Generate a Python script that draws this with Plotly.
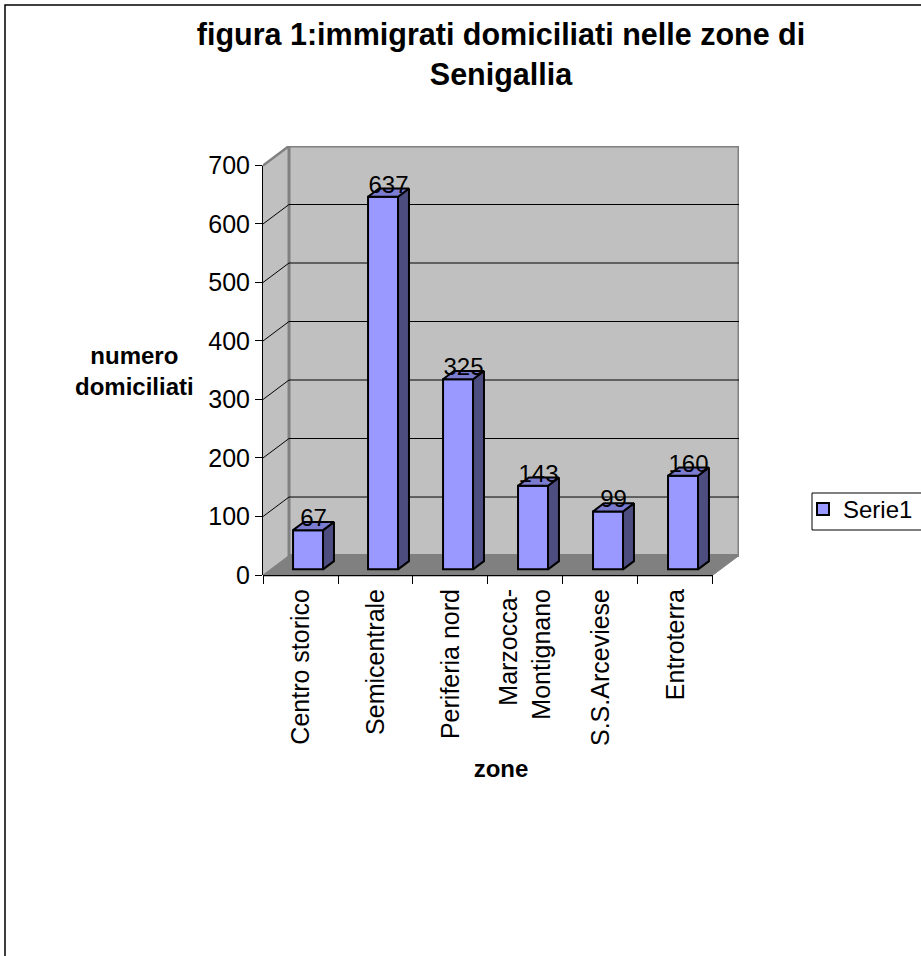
import plotly.graph_objects as go

# ---------------- data ----------------
categories = ["Centro storico", "Semicentrale", "Periferia nord",
              "Marzocca-<br>Montignano", "S.S.Arceviese", "Entroterra"]
values = [67, 637, 325, 143, 99, 160]
y_ticks = [0, 100, 200, 300, 400, 500, 600, 700]
series_name = "Serie1"
title_text = "figura 1:immigrati domiciliati nelle zone di<br>Senigallia"
x_title = "zone"
y_title = "numero<br>domiciliati"

# ---------------- style / geometry constants ----------------
FONT = "Liberation Sans, Arial, Helvetica, sans-serif"
W, H = 921, 956
L, R, T, B = 263, 182, 146, 381          # plot area margins (px)
PW, PH = W - L - R, H - T - B

DX = 0.347     # 3D depth shift (category units)
DY = 33.3      # 3D depth shift (value units)
F0, F1 = 0.29, 0.71   # bar front/back position within depth
HALF = 0.2            # half bar width (category units)
LABEL_PAD = 10        # label lift (value units)

FRONT = "#9999FF"
SIDE = "#4D4D80"
TOP = "#7B7BD0"
WALL = "#C0C0C0"
FLOOR = "#808080"

n = len(categories)
YMAX = y_ticks[-1]
x_lo = -0.5
x_front_hi = n - 0.5
x_hi = n - 0.5 + DX
y_hi = YMAX + DY


def px_x(p):   # pixel -> paper x
    return (p - L) / PW


def px_y(p):   # pixel -> paper y
    return (T + PH - p) / PH


fig = go.Figure()

# ---------------- walls, floor, gridlines (shapes below traces) ----------------
shapes = []
shapes.append(dict(type="path", xref="x", yref="y", layer="below",
                   path=f"M {x_lo},0 L {x_lo},{YMAX} L {x_lo+DX},{YMAX+DY} L {x_lo+DX},{DY} Z",
                   fillcolor=WALL, line=dict(width=0)))
shapes.append(dict(type="rect", xref="x", yref="y", layer="below",
                   x0=x_lo + DX, x1=x_front_hi + DX, y0=DY, y1=YMAX + DY,
                   fillcolor=WALL, line=dict(color=FLOOR, width=3)))
for v in y_ticks[1:-1]:
    shapes.append(dict(type="line", xref="x", yref="y", layer="below",
                       x0=x_lo + DX, x1=x_front_hi + DX, y0=v + DY, y1=v + DY,
                       line=dict(color="black", width=1)))
    shapes.append(dict(type="line", xref="x", yref="y", layer="below",
                       x0=x_lo, x1=x_lo + DX, y0=v, y1=v + DY,
                       line=dict(color="black", width=1)))
shapes.append(dict(type="line", xref="x", yref="y", layer="below",
                   x0=x_lo, x1=x_lo + DX, y0=YMAX, y1=YMAX + DY,
                   line=dict(color=FLOOR, width=2.5)))
shapes.append(dict(type="path", xref="x", yref="y", layer="below",
                   path=f"M {x_lo},0 L {x_front_hi},0 L {x_front_hi+DX},{DY} L {x_lo+DX},{DY} Z",
                   fillcolor=FLOOR, line=dict(color=FLOOR, width=1)))
# front axis lines
shapes.append(dict(type="line", xref="x domain", yref="y", layer="below",
                   x0=0, x1=0, y0=0, y1=YMAX, line=dict(color="black", width=2)))
shapes.append(dict(type="line", xref="x", yref="y domain", layer="below",
                   x0=x_lo, x1=x_front_hi, y0=0, y1=0, line=dict(color="black", width=2.5)))
# chart-area border
shapes.append(dict(type="rect", xref="paper", yref="paper", layer="above",
                   x0=px_x(5), x1=2.0, y0=-2.0, y1=px_y(5),
                   line=dict(color="black", width=1.5), fillcolor="rgba(0,0,0,0)"))
# legend frame
shapes.append(dict(type="rect", xref="paper", yref="paper", layer="above",
                   x0=px_x(812), x1=px_x(940), y0=px_y(530), y1=px_y(493),
                   line=dict(color="black", width=1), fillcolor="rgba(0,0,0,0)"))

# ---------------- bars ----------------
bar_x = [i + F0 * DX for i in range(n)]
fig.add_trace(go.Bar(x=bar_x, y=values, base=F0 * DY, width=2 * HALF, name=series_name,
                     marker=dict(color=FRONT, line=dict(color="black", width=2)),
                     showlegend=True, hoverinfo="skip"))

sx, sy, tx, ty = [], [], [], []
for i, v in enumerate(values):
    xr0, xr1 = i + HALF + F0 * DX, i + HALF + F1 * DX
    xl0, xl1 = i - HALF + F0 * DX, i - HALF + F1 * DX
    sx += [xr0, xr1, xr1, xr0, xr0, None]
    sy += [F0 * DY, F1 * DY, v + F1 * DY, v + F0 * DY, F0 * DY, None]
    tx += [xl0, xr0, xr1, xl1, xl0, None]
    ty += [v + F0 * DY, v + F0 * DY, v + F1 * DY, v + F1 * DY, v + F0 * DY, None]

fig.add_trace(go.Scatter(x=sx, y=sy, mode="lines", fill="toself", fillcolor=SIDE,
                         line=dict(color="black", width=2), showlegend=False,
                         hoverinfo="skip", cliponaxis=False))
fig.add_trace(go.Scatter(x=tx, y=ty, mode="lines", fill="toself", fillcolor=TOP,
                         line=dict(color="black", width=2), showlegend=False,
                         hoverinfo="skip", cliponaxis=False))

# ---------------- data labels ----------------
fig.add_trace(go.Scatter(x=[i + 0.5 * DX for i in range(n)],
                         y=[v + 0.5 * DY + LABEL_PAD for v in values],
                         mode="text", text=[str(v) for v in values],
                         textposition="middle center",
                         textfont=dict(family=FONT, size=24, color="black"),
                         showlegend=False, hoverinfo="skip", cliponaxis=False))

# ---------------- layout ----------------
fig.update_layout(
    width=W, height=H,
    margin=dict(l=L, r=R, t=T, b=B, autoexpand=False),
    paper_bgcolor="white", plot_bgcolor="rgba(0,0,0,0)",
    font=dict(family=FONT, size=24, color="black"),
    title=dict(text=title_text, x=0.5, xref="paper", xanchor="center",
               y=1 - 45 / H, yref="container", yanchor="top",
               font=dict(family=FONT, size=30.5, color="black", weight="bold")),
    showlegend=True,
    legend=dict(x=px_x(803), y=px_y(487), xanchor="left", yanchor="top",
                bgcolor="rgba(0,0,0,0)", borderwidth=0,
                font=dict(family=FONT, size=24, color="black")),
    xaxis=dict(range=[x_lo, x_hi], tickmode="array", tickvals=list(range(n)),
               ticktext=categories, tickangle=-90, ticks="outside", ticklen=3,
               tickcolor="rgba(0,0,0,0)", showgrid=False, zeroline=False, showline=False,
               tickfont=dict(family=FONT, size=25, color="black"),
               minor=dict(tickmode="array", tickvals=[i - 0.5 for i in range(n + 1)],
                          ticks="outside", ticklen=8, tickcolor="black", tickwidth=1,
                          showgrid=False),
               title=dict(text=x_title, standoff=15,
                          font=dict(family=FONT, size=24, color="black", weight="bold")),
               fixedrange=True),
    yaxis=dict(range=[0, y_hi], tickmode="array", tickvals=y_ticks,
               ticks="outside", ticklen=7, tickcolor="black", tickwidth=1,
               showgrid=False, zeroline=False, showline=False,
               tickfont=dict(family=FONT, size=25, color="black"),
               fixedrange=True),
    shapes=shapes,
    annotations=[dict(text=y_title, xref="paper", yref="paper",
                      x=px_x(134), y=px_y(371),
                      xanchor="center", yanchor="middle", showarrow=False, align="center",
                      font=dict(family=FONT, size=24, color="black", weight="bold"))],
)

fig.write_html("out.html", config={"displayModeBar": False},
               post_script="document.body.style.margin='0px';document.body.style.overflow='hidden';")
